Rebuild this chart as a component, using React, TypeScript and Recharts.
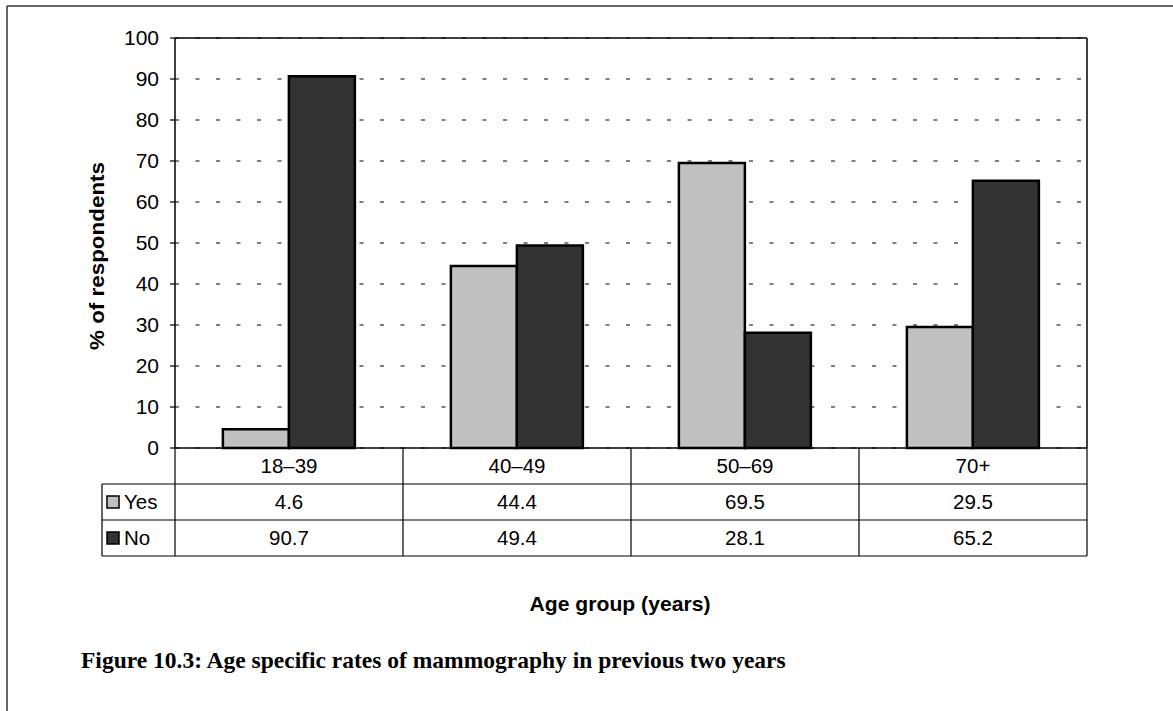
import React from 'react';
import { BarChart, Bar, XAxis, YAxis, CartesianGrid } from 'recharts';

const categories = ['18–39', '40–49', '50–69', '70+'];
const yesValues = [4.6, 44.4, 69.5, 29.5];
const noValues = [90.7, 49.4, 28.1, 65.2];
const yTicks = [0, 10, 20, 30, 40, 50, 60, 70, 80, 90, 100];
const seriesNames = ['Yes', 'No'];
const seriesColors = ['#c0c0c0', '#333333'];

const data = categories.map((c, i) => ({ cat: c, yes: yesValues[i], no: noValues[i] }));

const W = 1173;
const H = 711;
const PLOT_L = 175;
const PLOT_R = 1087;
const PLOT_T = 38;
const PLOT_B = 448;
const ROW_H = 36;
const TABLE_L = 102;
const FONT = '"Liberation Sans", Arial, sans-serif';
const HALF_BAND = (PLOT_R - PLOT_L) / categories.length / 2;

const TableTick = (props: any) => {
  const { x, payload, index } = props;
  const i = typeof index === 'number' ? index : categories.indexOf(payload.value);
  const top = PLOT_B;
  const rows = [payload.value, String(yesValues[i]), String(noValues[i])];
  return (
    <g>
      {rows.map((t, r) => (
        <text key={r} x={x} y={top + ROW_H * r + ROW_H / 2 + 7} textAnchor="middle" fontFamily={FONT} fontSize={20.5} fill="#000">
          {t}
        </text>
      ))}
      <line x1={x + HALF_BAND} x2={x + HALF_BAND} y1={top} y2={top + ROW_H * 3} stroke="#000" strokeWidth={1.2} />
    </g>
  );
};

export default function App() {
  return (
    <div style={{ position: 'absolute', left: 0, top: 0, width: W, height: H, background: '#fff' }}>
      <BarChart
        width={W}
        height={H}
        data={data}
        margin={{ top: PLOT_T, right: W - PLOT_R, left: PLOT_L - 100, bottom: H - PLOT_B - 108 }}
        barCategoryGap="21%"
        barGap={0}
      >
        <CartesianGrid horizontal vertical={false} stroke="#000" strokeWidth={1} strokeDasharray="4 16.5" />
        <YAxis
          width={100}
          domain={[0, 100]}
          ticks={yTicks}
          interval={0}
          tickSize={5}
          tickMargin={11}
          axisLine={{ stroke: '#000', strokeWidth: 1.5 }}
          tickLine={{ stroke: '#000', strokeWidth: 1.2 }}
          tick={{ fill: '#000', fontSize: 21, fontFamily: FONT }}
        />
        <XAxis
          dataKey="cat"
          height={108}
          interval={0}
          tickLine={false}
          axisLine={{ stroke: '#000', strokeWidth: 1.5 }}
          tick={<TableTick />}
        />
        <Bar dataKey="yes" name={seriesNames[0]} fill={seriesColors[0]} stroke="#000" strokeWidth={2.5} isAnimationActive={false} />
        <Bar dataKey="no" name={seriesNames[1]} fill={seriesColors[1]} stroke="#000" strokeWidth={2.5} isAnimationActive={false} />
      </BarChart>
      <svg width={W} height={H} style={{ position: 'absolute', left: 0, top: 0, pointerEvents: 'none' }}>
        <line x1={7} x2={W} y1={6} y2={6} stroke="#333" strokeWidth={1.5} />
        <line x1={7} x2={7} y1={6} y2={H} stroke="#333" strokeWidth={1.5} />
        <line x1={PLOT_L} x2={PLOT_R} y1={PLOT_T} y2={PLOT_T} stroke="#000" strokeWidth={1.5} />
        <line x1={PLOT_R} x2={PLOT_R} y1={PLOT_T} y2={PLOT_B} stroke="#000" strokeWidth={1.5} />
        <line x1={PLOT_L} x2={PLOT_L} y1={PLOT_B} y2={PLOT_B + ROW_H * 3} stroke="#000" strokeWidth={1.2} />
        {[1, 2, 3].map((r) => (
          <line key={r} x1={TABLE_L} x2={PLOT_R} y1={PLOT_B + ROW_H * r} y2={PLOT_B + ROW_H * r} stroke="#000" strokeWidth={1.2} />
        ))}
        <line x1={TABLE_L} x2={TABLE_L} y1={PLOT_B + ROW_H} y2={PLOT_B + ROW_H * 3} stroke="#000" strokeWidth={1.2} />
        {seriesNames.map((n, i) => (
          <g key={n}>
            <rect x={107} y={PLOT_B + ROW_H * (i + 1) + ROW_H / 2 - 6} width={12} height={12} fill={seriesColors[i]} stroke="#000" strokeWidth={1.5} />
            <text x={124} y={PLOT_B + ROW_H * (i + 1) + ROW_H / 2 + 7} fontFamily={FONT} fontSize={20.5} fill="#000">{n}</text>
          </g>
        ))}
        <text x={96} y={256} transform="rotate(-90 96 256)" textAnchor="middle" dominantBaseline="central" fontFamily={FONT} fontWeight="bold" fontSize={21} textLength={188} lengthAdjust="spacingAndGlyphs" fill="#000">
          % of respondents
        </text>
        <text x={620} y={611} textAnchor="middle" fontFamily={FONT} fontWeight="bold" fontSize={21} textLength={181} lengthAdjust="spacingAndGlyphs" fill="#000">
          Age group (years)
        </text>
        <text x={81} y={668} fontFamily='"Liberation Serif", "DejaVu Serif", serif' fontWeight="bold" fontSize={23.5} fill="#000">
          Figure 10.3: Age specific rates of mammography in previous two years
        </text>
      </svg>
    </div>
  );
}
